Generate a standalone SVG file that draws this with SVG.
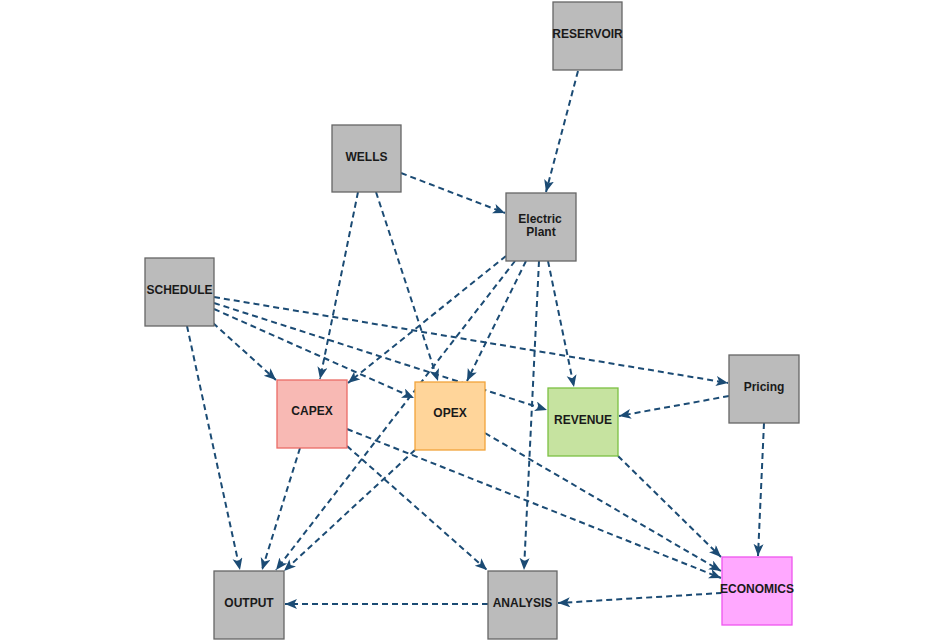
<svg xmlns="http://www.w3.org/2000/svg" width="945" height="642" viewBox="0 0 945 642">
<style>
.n rect{stroke-width:1.3}
.g{fill:#bbbbbb;stroke:#666666}
.capex{fill:#f8b9b4;stroke:#ea6b66}
.opex{fill:#ffd59a;stroke:#f2a43a}
.rev{fill:#c6e3a0;stroke:#7cc043}
.eco{fill:#ffa8ff;stroke:#ee55ee}
text{font-family:"Liberation Sans",Arial,sans-serif;font-weight:bold;font-size:12px;fill:#1a1a1a;text-anchor:middle;dominant-baseline:central}
#edges line{stroke:#1b4b74;stroke-width:2;stroke-dasharray:6 4;fill:none;marker-end:url(#ah)}
</style>
<defs>
<marker id="ah" markerUnits="userSpaceOnUse" markerWidth="13" markerHeight="11" refX="12" refY="5" orient="auto">
<path d="M0,0 L12,5 L0,10 L3,5 z" fill="#1b4b74"/>
</marker>
</defs>
<rect width="945" height="642" fill="#ffffff"/>
<g id="edges">
<line x1="578" y1="71" x2="546" y2="192"/>
<line x1="401" y1="173" x2="505" y2="213"/>
<line x1="358" y1="192" x2="320" y2="379"/>
<line x1="376" y1="192" x2="438" y2="381"/>
<line x1="506" y1="256" x2="348" y2="383"/>
<line x1="515" y1="261" x2="276" y2="570"/>
<line x1="526" y1="261" x2="467" y2="381"/>
<line x1="539" y1="261" x2="524" y2="570"/>
<line x1="548" y1="261" x2="574" y2="387"/>
<line x1="214" y1="297" x2="728" y2="383"/>
<line x1="214" y1="303" x2="547" y2="410"/>
<line x1="214" y1="309" x2="414" y2="398"/>
<line x1="213" y1="323" x2="276" y2="380"/>
<line x1="187" y1="326" x2="240" y2="570"/>
<line x1="729" y1="396" x2="619" y2="416"/>
<line x1="764" y1="423" x2="758" y2="556"/>
<line x1="300" y1="448" x2="262" y2="570"/>
<line x1="347" y1="446" x2="487" y2="570"/>
<line x1="347" y1="429" x2="721" y2="578"/>
<line x1="415" y1="450" x2="284" y2="571"/>
<line x1="485" y1="433" x2="721" y2="571"/>
<line x1="618" y1="456" x2="721" y2="557"/>
<line x1="722" y1="593" x2="558" y2="603"/>
<line x1="488" y1="604" x2="285" y2="604"/>
</g>
<g id="reservoir" class="n"><rect class="g" x="553" y="2" width="69" height="68"/><text x="587.5" y="34">RESERVOIR</text></g>
<g id="wells" class="n"><rect class="g" x="332" y="125" width="69" height="67"/><text x="366.5" y="157">WELLS</text></g>
<g id="electric-plant" class="n"><rect class="g" x="506" y="193" width="70" height="68"/><text x="540" y="218.5">Electric</text><text x="541" y="232">Plant</text></g>
<g id="schedule" class="n"><rect class="g" x="145" y="258" width="69" height="68"/><text x="179.5" y="290">SCHEDULE</text></g>
<g id="pricing" class="n"><rect class="g" x="729" y="355" width="70" height="68"/><text x="764" y="387">Pricing</text></g>
<g id="capex" class="n"><rect class="capex" x="277" y="380" width="70" height="68"/><text x="312" y="411">CAPEX</text></g>
<g id="opex" class="n"><rect class="opex" x="415" y="382" width="70" height="68"/><text x="450" y="413">OPEX</text></g>
<g id="revenue" class="n"><rect class="rev" x="548" y="388" width="70" height="68"/><text x="583" y="420">REVENUE</text></g>
<g id="economics" class="n"><rect class="eco" x="722" y="557" width="70" height="68"/><text x="757" y="589">ECONOMICS</text></g>
<g id="output" class="n"><rect class="g" x="214" y="571" width="70" height="68"/><text x="249" y="603">OUTPUT</text></g>
<g id="analysis" class="n"><rect class="g" x="488" y="571" width="69" height="68"/><text x="522.5" y="603">ANALYSIS</text></g>
</svg>
